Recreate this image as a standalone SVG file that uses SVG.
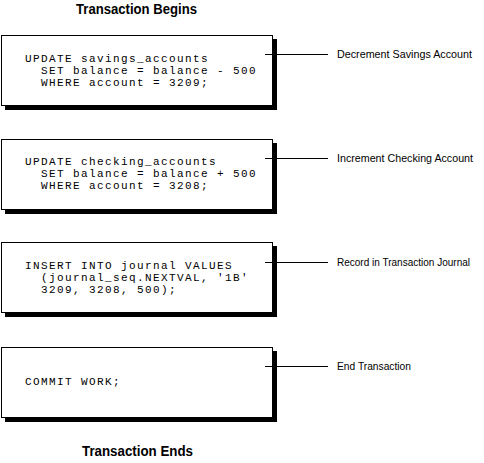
<svg xmlns="http://www.w3.org/2000/svg" width="484" height="463" viewBox="0 0 484 463">
<style>
.shadow{fill:#000}
.box{fill:#fff;stroke:#000;stroke-width:1}
.code{font-family:"Liberation Mono","DejaVu Sans Mono",monospace;font-size:11px;letter-spacing:1.4px;fill:#000}
.lbl{font-family:"Liberation Sans",Arial,sans-serif;font-size:10.5px;fill:#000}
.title{font-family:"Liberation Sans",Arial,sans-serif;font-size:14px;font-weight:bold;fill:#000}
.lead{stroke:#000;stroke-width:1;fill:none}
</style>
<rect width="484" height="463" fill="#fff"/>
<g id="title-begin"><text class="title" x="76" y="14" textLength="121" lengthAdjust="spacingAndGlyphs">Transaction Begins</text></g>
<g id="node1">
<rect class="shadow" x="5" y="39" width="272" height="71"/>
<rect class="box" x="1.5" y="35.5" width="271" height="70"/>
<text class="code" x="25" y="62">UPDATE savings_accounts</text>
<text class="code" x="25" y="74" xml:space="preserve">  SET balance = balance - 500</text>
<text class="code" x="25" y="86" xml:space="preserve">  WHERE account = 3209;</text>
</g>
<g id="node2">
<rect class="shadow" x="5" y="143" width="272" height="71"/>
<rect class="box" x="1.5" y="139.5" width="271" height="70"/>
<text class="code" x="25" y="165">UPDATE checking_accounts</text>
<text class="code" x="25" y="177" xml:space="preserve">  SET balance = balance + 500</text>
<text class="code" x="25" y="189" xml:space="preserve">  WHERE account = 3208;</text>
</g>
<g id="node3">
<rect class="shadow" x="5" y="246" width="272" height="71"/>
<rect class="box" x="1.5" y="242.5" width="271" height="70"/>
<text class="code" x="25" y="269">INSERT INTO journal VALUES</text>
<text class="code" x="25" y="281" xml:space="preserve">  (journal_seq.NEXTVAL, '1B'</text>
<text class="code" x="25" y="293" xml:space="preserve">  3209, 3208, 500);</text>
</g>
<g id="node4">
<rect class="shadow" x="5" y="351" width="272" height="71"/>
<rect class="box" x="1.5" y="347.5" width="271" height="70"/>
<text class="code" x="25" y="385">COMMIT WORK;</text>
</g>
<g id="connectors">
<line class="lead" x1="265" y1="54.5" x2="328" y2="54.5"/>
<line class="lead" x1="265" y1="158.5" x2="328" y2="158.5"/>
<line class="lead" x1="265" y1="262.5" x2="328" y2="262.5"/>
<line class="lead" x1="265" y1="366.5" x2="328" y2="366.5"/>
</g>
<g id="labels">
<text class="lbl" x="337" y="58" textLength="135" lengthAdjust="spacingAndGlyphs">Decrement Savings Account</text>
<text class="lbl" x="337" y="162" textLength="136" lengthAdjust="spacingAndGlyphs">Increment Checking Account</text>
<text class="lbl" x="337" y="266" textLength="133" lengthAdjust="spacingAndGlyphs">Record in Transaction Journal</text>
<text class="lbl" x="337" y="370" textLength="74" lengthAdjust="spacingAndGlyphs">End Transaction</text>
</g>
<g id="title-end"><text class="title" x="82" y="456" textLength="111" lengthAdjust="spacingAndGlyphs">Transaction Ends</text></g>
</svg>
